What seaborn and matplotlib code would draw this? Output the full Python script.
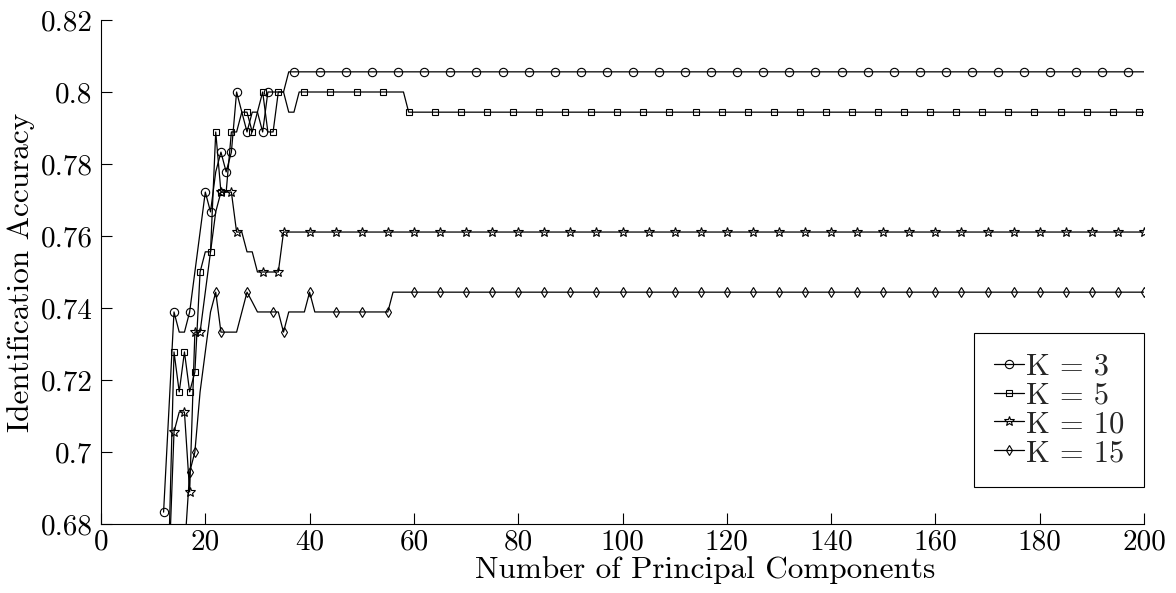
import numpy as np
import pandas as pd
import matplotlib
matplotlib.use("Agg")
import matplotlib.pyplot as plt
import seaborn as sns

# ---------------- data ----------------
x_ticks = [0, 20, 40, 60, 80, 100, 120, 140, 160, 180, 200]
x_tick_labels = ["0", "20", "40", "60", "80", "100", "120", "140", "160", "180", "200"]
y_ticks = [0.68, 0.70, 0.72, 0.74, 0.76, 0.78, 0.80, 0.82]
y_tick_labels = ["0.68", "0.7", "0.72", "0.74", "0.76", "0.78", "0.8", "0.82"]
series_labels = ["K = 3", "K = 5", "K = 10", "K = 15"]

# K = 3 : first x, point-by-point values, then (value, last x) runs
k3_start = 12
k3_early = [0.6833, 0.7111, 0.7389, 0.7333, 0.7333, 0.7389, 0.7500, 0.7611,
            0.7722, 0.7667, 0.7778, 0.7833, 0.7778, 0.7833, 0.8000, 0.7944,
            0.7889, 0.7944, 0.7944, 0.7889, 0.8000, 0.8000, 0.8000, 0.8000]
k3_runs = [(0.8056, 200)]
k3_marks_early = [12, 14, 17, 20, 21, 23, 24, 25, 26, 28, 31, 32]
k3_marks_regular_from = 37

# K = 5
k5_start = 13
k5_early = [0.6722, 0.7278, 0.7167, 0.7278, 0.7167, 0.7222, 0.7500, 0.7556,
            0.7556, 0.7889, 0.7722, 0.7722, 0.7889, 0.7889, 0.7944, 0.7944,
            0.7889, 0.7944, 0.8000, 0.7889, 0.7889, 0.8000, 0.8000, 0.7944,
            0.7944]
k5_runs = [(0.8000, 58), (0.7944, 200)]
k5_marks_early = [14, 15, 16, 17, 18, 19, 21, 22, 23, 25, 28, 29, 31, 33, 34]
k5_marks_regular_from = 39

# K = 10
k10_start = 13
k10_early = [0.6667, 0.7056, 0.7111, 0.7111, 0.6889, 0.7333, 0.7333, 0.7444,
             0.7556, 0.7667, 0.7722, 0.7722, 0.7722, 0.7611, 0.7611, 0.7556,
             0.7556, 0.7500, 0.7500, 0.7500, 0.7500, 0.7500]
k10_runs = [(0.7611, 200)]
k10_marks_early = [14, 16, 17, 18, 19, 23, 25, 26, 31, 34]
k10_marks_regular_from = 35

# K = 15
k15_start = 16
k15_early = [0.6722, 0.6944, 0.7000, 0.7167, 0.7278, 0.7389, 0.7444, 0.7333,
             0.7333, 0.7333, 0.7333, 0.7389, 0.7444, 0.7417, 0.7389, 0.7389,
             0.7389, 0.7389, 0.7389, 0.7333, 0.7389, 0.7389, 0.7389, 0.7389,
             0.7444]
k15_runs = [(0.7389, 55), (0.7444, 200)]
k15_marks_early = [17, 18, 22, 23, 28, 33, 35]
k15_marks_regular_from = 40

# ---------------- build series ----------------
def expand(start, early, runs):
    ys = list(early)
    x_cur = start + len(ys)
    for val, last in runs:
        ys += [val] * (last - x_cur + 1)
        x_cur = last + 1
    xs = np.arange(start, start + len(ys))
    return xs, np.array(ys)

def mark_idx(start, early_marks, regular_from, last=200, step=5):
    xs = list(early_marks) + list(range(regular_from, last + 1, step))
    return [x - start for x in xs]

specs = [
    (k3_start, k3_early, k3_runs, k3_marks_early, k3_marks_regular_from, "o", 6.0),
    (k5_start, k5_early, k5_runs, k5_marks_early, k5_marks_regular_from, "s", 4.6),
    (k10_start, k10_early, k10_runs, k10_marks_early, k10_marks_regular_from, "*", 7.5),
    (k15_start, k15_early, k15_runs, k15_marks_early, k15_marks_regular_from, "d", 5.6),
]

# ---------------- style ----------------
sns.set_theme(style="white")
plt.rcParams["font.family"] = ["cmr10", "DejaVu Serif"]
plt.rcParams["mathtext.fontset"] = "cm"
plt.rcParams["axes.formatter.use_mathtext"] = True
plt.rcParams["axes.unicode_minus"] = False

FS = 21
FS_LAB = 22.5
FS_LEG = 22

fig = plt.figure(figsize=(11.76, 5.93), dpi=100)
ax = fig.add_axes([101 / 1176, 1 - 524 / 593, (1144 - 101) / 1176, (524 - 20) / 593])

for (start, early, runs, mk_early, mk_reg, marker, ms), lab in zip(specs, series_labels):
    xs, ys = expand(start, early, runs)
    df = pd.DataFrame({"components": xs, "accuracy": ys})
    sns.lineplot(data=df, x="components", y="accuracy", ax=ax, color="black",
                 linewidth=0.9, marker=marker, markersize=ms,
                 markevery=mark_idx(start, mk_early, mk_reg),
                 markerfacecolor="none", mec="black", mew=0.8,
                 label=lab, estimator=None, sort=False)

ax.set_xlim(0, 200)
ax.set_ylim(0.68, 0.82)
ax.set_xticks(x_ticks)
ax.set_xticklabels(x_tick_labels)
ax.set_yticks(y_ticks)
ax.set_yticklabels(y_tick_labels)

ax.tick_params(axis="both", direction="in", length=8, width=0.8, color="black",
               labelsize=FS, labelcolor="black")
ax.tick_params(axis="x", pad=4, bottom=True)
ax.tick_params(axis="y", pad=6, left=True)

for side in ["top", "right"]:
    ax.spines[side].set_visible(False)
for side in ["left", "bottom"]:
    ax.spines[side].set_color("black")
    ax.spines[side].set_linewidth(0.8)

ax.set_xlabel("Number of Principal Components", fontsize=FS_LAB, color="black")
ax.set_ylabel("Identification Accuracy", fontsize=FS_LAB, color="black", labelpad=4)
ax.xaxis.set_label_coords(0.5796, -0.064)

leg = ax.legend(loc="lower right", bbox_to_anchor=(1.0, 37 / 504),
                borderaxespad=0, fontsize=FS_LEG, frameon=True, fancybox=False,
                edgecolor="black", framealpha=1, handlelength=1.0,
                handletextpad=0.05, labelspacing=0.05, borderpad=0.65,
                numpoints=1)
leg.get_frame().set_linewidth(0.8)

fig.savefig("out.png", dpi=100)
